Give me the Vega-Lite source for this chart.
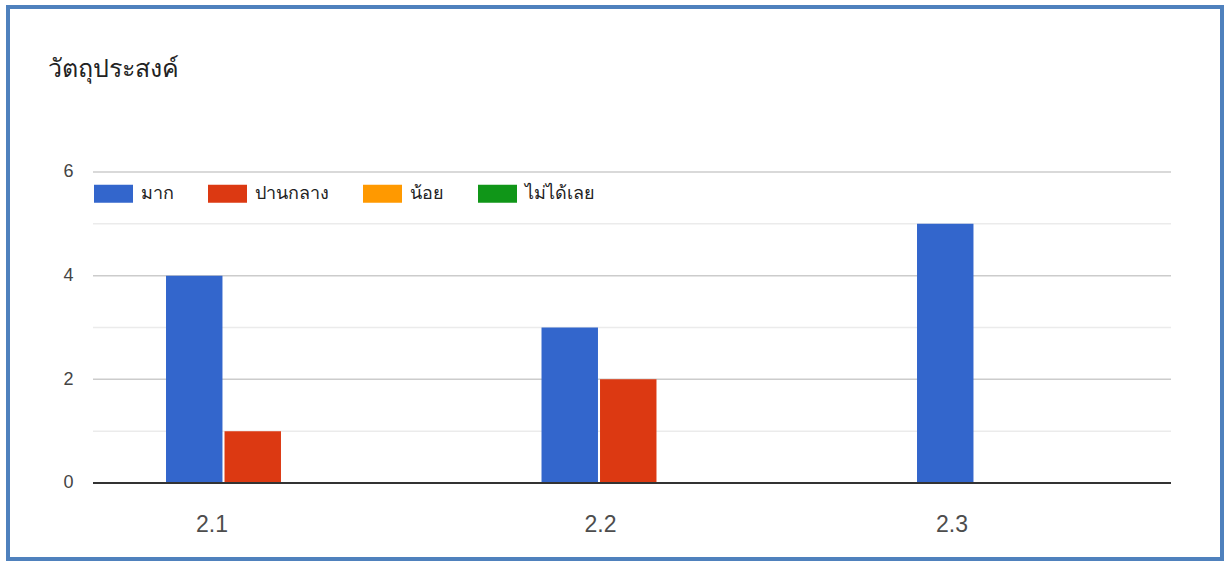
{
  "$schema": "https://vega.github.io/schema/vega-lite/v6.json",
  "width": 1214,
  "height": 552,
  "autosize": {"type": "none"},
  "padding": {"left": 8, "top": 7, "right": 2, "bottom": 2},
  "background": "white",
  "title": {
    "text": "วัตถุประสงค์",
    "anchor": "start",
    "frame": "group",
    "orient": "top",
    "offset": -75,
    "dx": 40,
    "fontSize": 25,
    "fontWeight": "normal",
    "color": "#222222",
    "font": "Noto Sans, sans-serif"
  },
  "datasets": {
    "bars": [
      {"item": "2.1", "level": "มาก", "count": 4},
      {"item": "2.1", "level": "ปานกลาง", "count": 1},
      {"item": "2.1", "level": "น้อย", "count": 0},
      {"item": "2.1", "level": "ไม่ได้เลย", "count": 0},
      {"item": "2.2", "level": "มาก", "count": 3},
      {"item": "2.2", "level": "ปานกลาง", "count": 2},
      {"item": "2.2", "level": "น้อย", "count": 0},
      {"item": "2.2", "level": "ไม่ได้เลย", "count": 0},
      {"item": "2.3", "level": "มาก", "count": 5},
      {"item": "2.3", "level": "ปานกลาง", "count": 0},
      {"item": "2.3", "level": "น้อย", "count": 0},
      {"item": "2.3", "level": "ไม่ได้เลย", "count": 0}
    ],
    "grid": [
      {"v": 0, "kind": "base"},
      {"v": 1, "kind": "minor"},
      {"v": 2, "kind": "major"},
      {"v": 3, "kind": "minor"},
      {"v": 4, "kind": "major"},
      {"v": 5, "kind": "minor"},
      {"v": 6, "kind": "major"}
    ]
  },
  "layer": [
    {
      "data": {"name": "grid"},
      "transform": [{"filter": "datum.kind == 'minor'"}],
      "mark": {"type": "rule", "color": "#ebebeb", "strokeWidth": 1.5},
      "encoding": {
        "y": {
          "field": "v", "type": "quantitative",
          "scale": {"domain": [-1.467, 9.183], "nice": false, "zero": false},
          "axis": {"orient": "left", "values": [0, 2, 4, 6], "offset": -67, "domain": false, "ticks": false, "tickSize": 0, "grid": false, "labelPadding": 2, "labelFontSize": 18, "labelColor": "#444444", "labelFont": "Liberation Sans, Arial, sans-serif", "title": null}
        },
        "x": {"datum": 0, "type": "quantitative", "scale": {"domain": [-0.07885, 1.04731], "nice": false, "zero": false}, "axis": null},
        "x2": {"datum": 1}
      }
    },
    {
      "data": {"name": "grid"},
      "transform": [{"filter": "datum.kind == 'major'"}],
      "mark": {"type": "rule", "color": "#cccccc", "strokeWidth": 1.5},
      "encoding": {
        "y": {
          "field": "v", "type": "quantitative",
          "scale": {"domain": [-1.467, 9.183], "nice": false, "zero": false},
          "axis": {"orient": "left", "values": [0, 2, 4, 6], "offset": -67, "domain": false, "ticks": false, "tickSize": 0, "grid": false, "labelPadding": 2, "labelFontSize": 18, "labelColor": "#444444", "labelFont": "Liberation Sans, Arial, sans-serif", "title": null}
        },
        "x": {"datum": 0, "type": "quantitative", "scale": {"domain": [-0.07885, 1.04731], "nice": false, "zero": false}, "axis": null},
        "x2": {"datum": 1}
      }
    },
    {
      "data": {"name": "bars"},
      "mark": {"type": "bar"},
      "encoding": {
        "x": {
          "field": "item",
          "type": "nominal",
          "sort": null,
          "scale": {"domain": ["2.1", "2.2", "2.3"], "paddingInner": 0.3822, "paddingOuter": 0.3076, "align": 0.684},
          "axis": {
            "orient": "bottom",
            "offset": -46,
            "domain": false,
            "ticks": false,
            "tickSize": 0,
            "grid": false,
            "labelPadding": 0,
            "labelOffset": {"condition": [{"test": "datum.value == '2.1'", "value": -70}, {"test": "datum.value == '2.2'", "value": -57}], "value": -81},
            "labelAngle": 0,
            "labelFontSize": 23,
            "labelColor": "#4d4d4d",
            "labelFont": "Liberation Sans, Arial, sans-serif",
            "labelBaseline": "top",
            "title": null
          }
        },
        "xOffset": {
          "field": "level",
          "type": "nominal",
          "sort": null,
          "scale": {"domain": ["มาก", "ปานกลาง", "น้อย", "ไม่ได้เลย"], "paddingInner": 0.035, "paddingOuter": 0}
        },
        "y": {
          "field": "count",
          "type": "quantitative",
          "stack": null,
          "scale": {"domain": [-1.467, 9.183], "nice": false, "zero": false},
          "axis": {"orient": "left", "values": [0, 2, 4, 6], "offset": -67, "domain": false, "ticks": false, "tickSize": 0, "grid": false, "labelPadding": 2, "labelFontSize": 18, "labelColor": "#444444", "labelFont": "Liberation Sans, Arial, sans-serif", "title": null}
        },
        "color": {
          "field": "level",
          "type": "nominal",
          "sort": null,
          "scale": {"domain": ["มาก", "ปานกลาง", "น้อย", "ไม่ได้เลย"], "range": ["#3366cc", "#dc3912", "#ff9900", "#109618"]},
          "legend": {
            "orient": "none",
            "legendX": 86,
            "legendY": 167,
            "direction": "horizontal",
            "columns": 4,
            "title": null,
            "symbolType": "M-1,-0.4615H1V0.4615H-1Z",
            "symbolSize": 1521,
            "symbolStrokeWidth": 0,
            "symbolOpacity": 1,
            "labelFontSize": 18,
            "labelOffset": 8,
            "columnPadding": 34,
            "labelColor": "#222222",
            "labelFont": "Noto Sans, sans-serif"
          }
        }
      }
    },
    {
      "data": {"name": "grid"},
      "transform": [{"filter": "datum.kind == 'base'"}],
      "mark": {"type": "rule", "color": "#333333", "strokeWidth": 2},
      "encoding": {
        "y": {
          "field": "v", "type": "quantitative",
          "scale": {"domain": [-1.467, 9.183], "nice": false, "zero": false},
          "axis": {"orient": "left", "values": [0, 2, 4, 6], "offset": -67, "domain": false, "ticks": false, "tickSize": 0, "grid": false, "labelPadding": 2, "labelFontSize": 18, "labelColor": "#444444", "labelFont": "Liberation Sans, Arial, sans-serif", "title": null}
        },
        "x": {"datum": 0, "type": "quantitative", "scale": {"domain": [-0.07885, 1.04731], "nice": false, "zero": false}, "axis": null},
        "x2": {"datum": 1}
      }
    }
  ],
  "resolve": {"scale": {"x": "independent"}},
  "config": {
    "view": {"stroke": "#4f81bd", "strokeWidth": 4}
  }
}
